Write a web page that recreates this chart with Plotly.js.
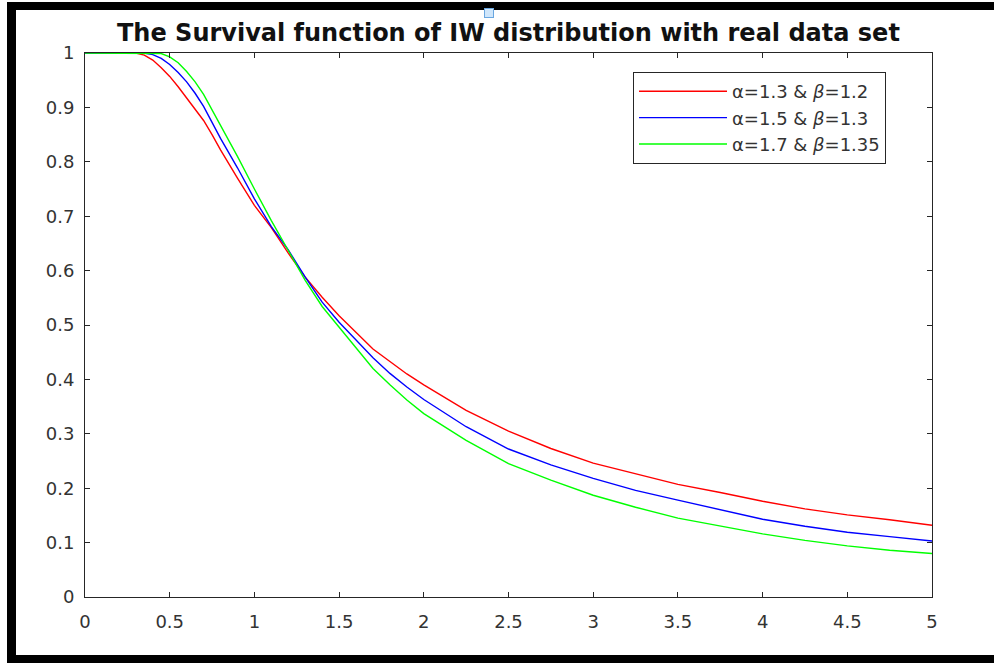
<!DOCTYPE html>
<html>
<head>
<meta charset="utf-8">
<script src="https://cdn.plot.ly/plotly-3.0.1.min.js"></script>
<style>
  html, body { margin:0; padding:0; background:#fff; }
  #wrap { position:relative; width:994px; height:663px; overflow:hidden; }
  #chart { position:absolute; left:0; top:0; width:994px; height:663px; }
  .bar { position:absolute; background:#000; z-index:5; }
  #sel { position:absolute; left:484px; top:8px; width:8px; height:8px; background:#cfe6fb; border:1px solid #6aa7e0; z-index:6; }
</style>
</head>
<body>
<div id="wrap">
  <div id="chart"></div>
  <div class="bar" style="left:7px; top:2px; width:987px; height:8px;"></div>
  <div class="bar" style="left:7px; top:2px; width:9px; height:661px;"></div>
  <div class="bar" style="left:7px; top:655px; width:987px; height:8px;"></div>
  <div id="sel"></div>
</div>
<script>
var xVals = [0, 0.1, 0.2, 0.3, 0.35, 0.4, 0.45, 0.5, 0.55, 0.6, 0.65, 0.7, 0.75, 0.8, 0.9, 1.0, 1.1, 1.2, 1.3, 1.4, 1.5, 1.6, 1.7, 1.8, 1.9, 2.0, 2.25, 2.5, 2.75, 3.0, 3.25, 3.5, 3.75, 4.0, 4.25, 4.5, 4.75, 5.0];

var survRed = [1, 1, 1, 1.0, 0.996, 0.987, 0.973, 0.957, 0.938, 0.918, 0.897, 0.876, 0.850, 0.822, 0.770, 0.720, 0.679, 0.632, 0.588, 0.551, 0.517, 0.486, 0.456, 0.433, 0.410, 0.390, 0.343, 0.305, 0.273, 0.246, 0.226, 0.207, 0.192, 0.176, 0.162, 0.151, 0.142, 0.132];

var survBlue = [1, 1, 1, 1, 1, 0.997, 0.990, 0.979, 0.964, 0.947, 0.926, 0.902, 0.873, 0.843, 0.789, 0.732, 0.681, 0.638, 0.588, 0.542, 0.505, 0.473, 0.440, 0.411, 0.386, 0.363, 0.313, 0.272, 0.243, 0.218, 0.196, 0.178, 0.160, 0.143, 0.130, 0.119, 0.111, 0.103];

var survGreen = [1, 1, 1, 1, 1, 1, 0.999, 0.993, 0.982, 0.966, 0.947, 0.924, 0.896, 0.866, 0.810, 0.750, 0.692, 0.637, 0.582, 0.534, 0.496, 0.456, 0.420, 0.390, 0.362, 0.337, 0.288, 0.245, 0.215, 0.187, 0.165, 0.145, 0.131, 0.116, 0.104, 0.094, 0.086, 0.080];

var seriesNames = ['α=1.3 & <i>β</i>=1.2', 'α=1.5 & <i>β</i>=1.3', 'α=1.7 & <i>β</i>=1.35'];
var seriesColors = ['#ff0000', '#0000ff', '#00ff00'];
var seriesData = [survRed, survBlue, survGreen];

var traces = seriesData.map(function(yv, i){
  return {
    x: xVals, y: yv, type: 'scatter', mode: 'lines',
    name: seriesNames[i],
    line: {color: seriesColors[i], width: 1.4}
  };
});

var axisCommon = {
  showline: true, linecolor: '#262626', linewidth: 1,
  mirror: 'ticks', ticks: 'inside', ticklen: 5, tickcolor: '#262626',
  showgrid: false, zeroline: false,
  tickfont: {family: 'DejaVu Sans, Arial, sans-serif', size: 18, color: '#333333'}
};

var layout = {
  width: 994, height: 663,
  margin: {l: 85, r: 62, t: 53, b: 66},
  paper_bgcolor: '#ffffff', plot_bgcolor: '#ffffff',
  showlegend: true,
  title: {
    text: 'The Survival function of IW distribution with real data set',
    font: {family: 'DejaVu Sans, Arial, sans-serif', size: 24, color: '#111111', weight: 'bold'},
    x: 0.5115, xanchor: 'center', y: 0.951, yanchor: 'middle'
  },
  xaxis: Object.assign({}, axisCommon, {range: [0, 5], dtick: 0.5, tick0: 0, ticklabelstandoff: 8}),
  yaxis: Object.assign({}, axisCommon, {range: [0, 1], dtick: 0.1, tick0: 0, ticklabelstandoff: 6}),
  legend: {
    x: 0.647, y: 0.965, xanchor: 'left', yanchor: 'top',
    bgcolor: '#ffffff', bordercolor: '#262626', borderwidth: 1,
    font: {family: 'DejaVu Sans, Arial, sans-serif', size: 18, color: '#333333'},
    itemwidth: 88, tracegroupgap: 0
  }
};

Plotly.newPlot('chart', traces, layout, {staticPlot: true, displayModeBar: false});
</script>
</body>
</html>
